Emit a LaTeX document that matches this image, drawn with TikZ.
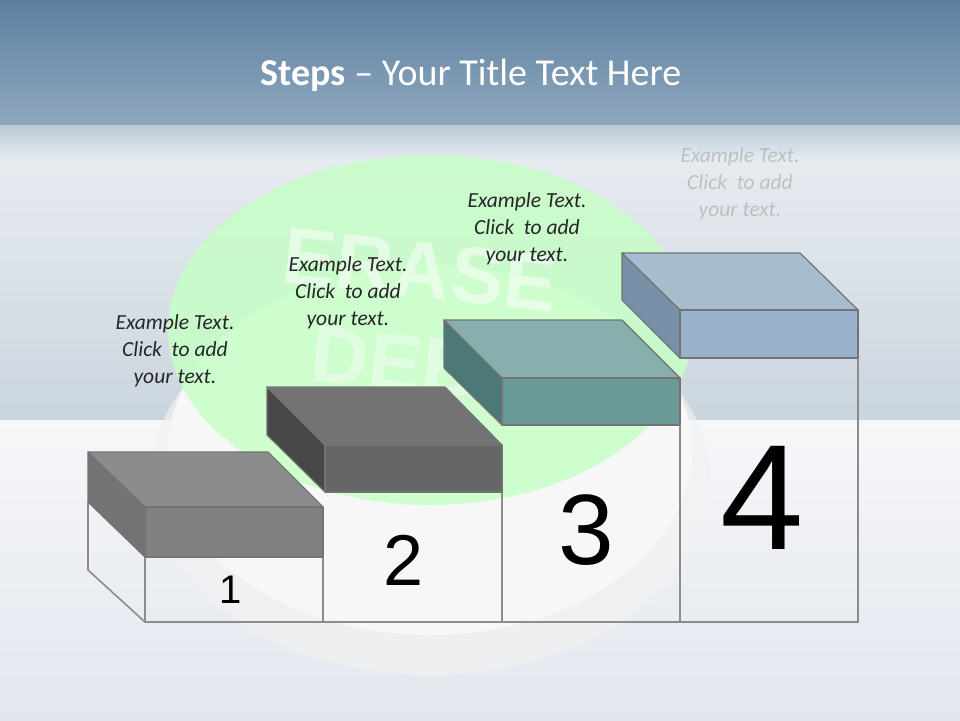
\documentclass[tikz,border=0pt]{standalone}
\usepackage{fontspec}
\setmainfont{Liberation Sans}
\newfontfamily\carfont{Carlito}
\usetikzlibrary{shadings}
\definecolor{topA}{HTML}{5E80A0}
\definecolor{topB}{HTML}{8FA8BE}
\definecolor{midA}{HTML}{E6EBF0}
\definecolor{midB}{HTML}{CBD5DE}
\definecolor{flA}{HTML}{F6F7F9}
\definecolor{flB}{HTML}{E2E6EE}
\begin{document}
\begin{tikzpicture}[x=1pt,y=-1pt,
  exm/.style={font=\carfont\itshape\fontsize{21.5}{27}\selectfont,align=center,text=black!85},
  num/.style={text=black,inner sep=0pt},
  frame/.style={draw=black!45,line width=1.6pt},
  face/.style={draw=black!55,line width=1.2pt,line join=round}]
\useasboundingbox (0,0) rectangle (960,720);
% background
\shade[top color=topA,bottom color=topB] (0,0) rectangle (960,125);
\shade[top color=topB!50!midA,bottom color=midA] (0,125) rectangle (960,160);
\shade[top color=midA,bottom color=midB] (0,160) rectangle (960,420);
\shade[top color=flA,bottom color=flB] (0,420) rectangle (960,720);
% faded button
\fill[gray!10,opacity=0.7] (430,480) ellipse (280 and 195);
\fill[gray!6] (430,450) ellipse (262 and 185);
\fill[green!22!white,opacity=0.85] (430,330) ellipse (262 and 175);
\node[font=\bfseries\fontsize{80}{80}\selectfont,text=white,opacity=0.5,rotate=-6] (er) at (420,270) {ERASE};
\node[font=\bfseries\fontsize{80}{80}\selectfont,text=white,opacity=0.4,rotate=-6] (de) at (420,365) {DEBT};
% title
\node[text=white,font=\carfont\fontsize{38}{40}\selectfont] (title) at (471,75) {\textbf{Steps} \textendash{} Your Title Text Here};
% frame lines
\draw[frame] (88,502) -- (88,570) -- (145,622) -- (858,622) -- (858,358);
\draw[frame] (145,557) -- (145,622);
\draw[frame] (323,557) -- (323,622);
\draw[frame] (502,492) -- (502,622);
\draw[frame] (680,425) -- (680,622);
% box 1
\fill[face,fill=black!55] (88,452) -- (145,507) -- (145,557) -- (88,502) -- cycle;
\fill[face,fill=black!45] (88,452) -- (268,452) -- (323,507) -- (145,507) -- cycle;
\fill[face,fill=black!50] (145,507) rectangle (323,557);
% box 2
\fill[face,fill=black!72] (267,387) -- (325,445) -- (325,492) -- (267,435) -- cycle;
\fill[face,fill=black!55] (267,387) -- (445,387) -- (502,445) -- (325,445) -- cycle;
\fill[face,fill=black!60] (325,445) rectangle (502,492);
% box 3
\fill[face,fill={rgb,255:red,77;green,120;blue,120}] (444,320) -- (502,378) -- (502,425) -- (444,368) -- cycle;
\fill[face,fill={rgb,255:red,136;green,174;blue,174}] (444,320) -- (622,320) -- (680,378) -- (502,378) -- cycle;
\fill[face,fill={rgb,255:red,106;green,154;blue,152}] (502,378) rectangle (680,425);
% box 4
\fill[face,fill={rgb,255:red,120;green,144;blue,168}] (622,253) -- (680,310) -- (680,358) -- (622,300) -- cycle;
\fill[face,fill={rgb,255:red,168;green,188;blue,208}] (622,253) -- (800,253) -- (858,310) -- (680,310) -- cycle;
\fill[face,fill={rgb,255:red,152;green,178;blue,204}] (680,310) rectangle (858,358);
% numbers
\node[num,font=\fontsize{40}{40}\selectfont] (n1) at (231,590) {1};
\node[num,font=\fontsize{72}{72}\selectfont] (n2) at (404,560) {2};
\node[num,font=\fontsize{100}{100}\selectfont] (n3) at (586,530) {3};
\node[num,font=\fontsize{150}{150}\selectfont] (n4) at (762,498) {4};
% texts
\node[exm] (t1) at (175,351) {Example Text.\\Click~ to add\\your text.};
\node[exm] (t2) at (348,293) {Example Text.\\Click~ to add\\your text.};
\node[exm] (t3) at (527,229) {Example Text.\\Click~ to add\\your text.};
\node[exm,text=black!35,opacity=0.6] (t4) at (740,184) {Example Text.\\Click~ to add\\your text.};
\end{tikzpicture}
\end{document}
